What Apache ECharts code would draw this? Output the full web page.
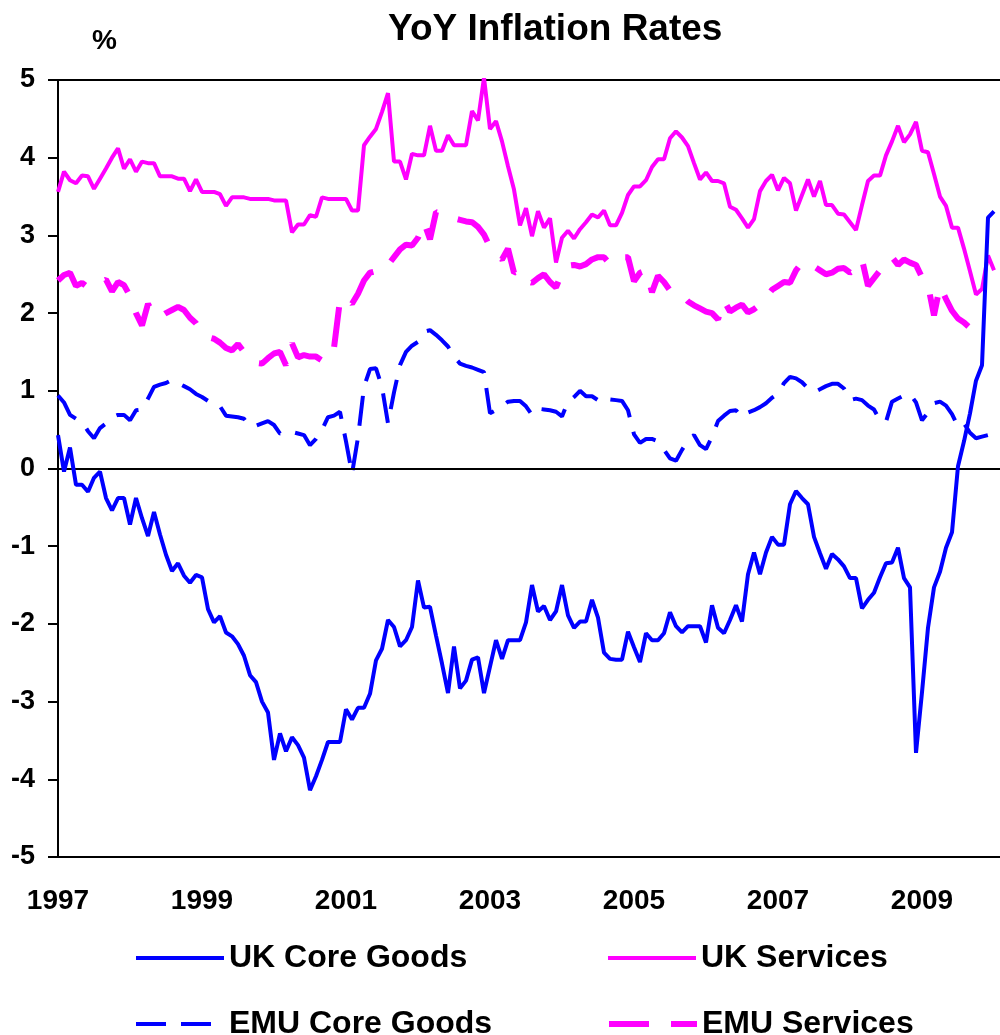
<!DOCTYPE html>
<html>
<head>
<meta charset="utf-8">
<title>YoY Inflation Rates</title>
<script src="https://cdn.jsdelivr.net/npm/echarts@6/dist/echarts.min.js"></script>
<style>
  html, body { margin: 0; padding: 0; background: #fff; }
  #inflation-chart { width: 1000px; height: 1035px; }
</style>
</head>
<body>
<div id="inflation-chart"></div>
<script>
// monthly data, Jan 1997 .. Jan 2010
const years = [1997, 1998, 1999, 2000, 2001, 2002, 2003, 2004, 2005, 2006, 2007, 2008, 2009, 2010];
const tickYears = ['1997', '1999', '2001', '2003', '2005', '2007', '2009'];

const ukCoreGoods = [
  0.43, -0.04, 0.27, -0.21, -0.21, -0.30, -0.12, -0.04, -0.38, -0.54, -0.38, -0.38,
  -0.72, -0.38, -0.64, -0.87, -0.56, -0.85, -1.11, -1.32, -1.22, -1.38, -1.47, -1.37,
  -1.40, -1.81, -1.98, -1.90, -2.11, -2.16, -2.26, -2.41, -2.66, -2.75, -3.00, -3.14,
  -3.75, -3.41, -3.64, -3.46, -3.56, -3.72, -4.14, -3.96, -3.75, -3.52, -3.52, -3.52,
  -3.10, -3.23, -3.08, -3.08, -2.90, -2.47, -2.32, -1.95, -2.04, -2.29, -2.21, -2.04,
  -1.44, -1.79, -1.78, -2.15, -2.51, -2.89, -2.29, -2.83, -2.73, -2.46, -2.43, -2.89,
  -2.55, -2.21, -2.45, -2.21, -2.21, -2.21, -1.98, -1.50, -1.84, -1.77, -1.95, -1.84,
  -1.50, -1.89, -2.05, -1.97, -1.97, -1.69, -1.92, -2.37, -2.45, -2.46, -2.46, -2.10,
  -2.30, -2.49, -2.12, -2.21, -2.21, -2.12, -1.85, -2.03, -2.11, -2.03, -2.03, -2.03,
  -2.24, -1.76, -2.05, -2.12, -1.95, -1.76, -1.97, -1.36, -1.08, -1.36, -1.08, -0.88,
  -0.98, -0.98, -0.46, -0.29, -0.38, -0.46, -0.88, -1.09, -1.29, -1.10, -1.17, -1.26,
  -1.41, -1.41, -1.80, -1.69, -1.60, -1.40, -1.22, -1.21, -1.02, -1.41, -1.53, -3.66,
  -2.88, -2.05, -1.53, -1.33, -1.02, -0.82, 0.03, 0.35, 0.71, 1.13, 1.33, 3.23,
  3.31
];

const ukServices = [
  3.56, 3.82, 3.71, 3.67, 3.77, 3.76, 3.60, 3.73, 3.86, 4.00, 4.12, 3.86,
  3.98, 3.82, 3.95, 3.93, 3.93, 3.76, 3.76, 3.76, 3.73, 3.73, 3.57, 3.72,
  3.56, 3.56, 3.56, 3.53, 3.38, 3.49, 3.49, 3.49, 3.47, 3.47, 3.47, 3.47,
  3.45, 3.45, 3.45, 3.04, 3.14, 3.14, 3.26, 3.24, 3.49, 3.47, 3.47, 3.47,
  3.47, 3.32, 3.32, 4.16, 4.27, 4.37, 4.59, 4.83, 3.95, 3.95, 3.72, 4.05,
  4.03, 4.03, 4.41, 4.09, 4.09, 4.29, 4.16, 4.16, 4.16, 4.60, 4.48, 5.03,
  4.37, 4.47, 4.21, 3.89, 3.59, 3.13, 3.35, 2.99, 3.31, 3.10, 3.22, 2.65,
  2.97, 3.06, 2.96, 3.08, 3.17, 3.27, 3.23, 3.32, 3.13, 3.13, 3.29, 3.52,
  3.63, 3.63, 3.71, 3.88, 3.98, 3.98, 4.25, 4.34, 4.26, 4.15, 3.93, 3.72,
  3.81, 3.70, 3.70, 3.67, 3.37, 3.33, 3.22, 3.10, 3.21, 3.57, 3.70, 3.78,
  3.58, 3.74, 3.67, 3.32, 3.52, 3.72, 3.50, 3.70, 3.39, 3.39, 3.28, 3.27,
  3.17, 3.07, 3.39, 3.70, 3.77, 3.77, 4.03, 4.21, 4.41, 4.20, 4.30, 4.46,
  4.09, 4.07, 3.79, 3.50, 3.38, 3.10, 3.10, 2.83, 2.54, 2.24, 2.31, 2.74,
  2.55
];

const emuCoreGoods = [
  0.94, 0.85, 0.69, 0.64, 0.60, 0.48, 0.39, 0.52, 0.58, 0.66, 0.69, 0.69,
  0.62, 0.75, 0.76, 0.90, 1.05, 1.08, 1.10, 1.14, 1.10, 1.06, 1.02, 0.96,
  0.92, 0.87, 0.86, 0.80, 0.68, 0.67, 0.66, 0.64, 0.54, 0.55, 0.58, 0.61,
  0.56, 0.45, 0.45, 0.47, 0.45, 0.43, 0.30, 0.38, 0.50, 0.66, 0.68, 0.73,
  0.35, -0.07, 0.40, 1.05, 1.28, 1.29, 1.05, 0.58, 0.98, 1.33, 1.50, 1.58,
  1.63, 1.76, 1.78, 1.72, 1.65, 1.57, 1.44, 1.35, 1.32, 1.30, 1.27, 1.24,
  0.71, 0.75, 0.80, 0.86, 0.87, 0.87, 0.80, 0.69, 0.77, 0.76, 0.75, 0.73,
  0.67, 0.86, 0.92, 1.00, 0.93, 0.93, 0.88, 0.93, 0.89, 0.88, 0.87, 0.75,
  0.44, 0.33, 0.38, 0.38, 0.35, 0.24, 0.13, 0.10, 0.24, 0.36, 0.43, 0.30,
  0.25, 0.41, 0.61, 0.68, 0.74, 0.75, 0.66, 0.72, 0.75, 0.79, 0.84, 0.91,
  0.96, 1.10, 1.18, 1.16, 1.11, 1.03, 0.98, 1.02, 1.06, 1.09, 1.09, 1.03,
  0.88, 0.90, 0.88, 0.81, 0.76, 0.62, 0.60, 0.86, 0.90, 0.94, 0.96, 0.85,
  0.62, 0.72, 0.84, 0.86, 0.81, 0.70, 0.54, 0.58, 0.46, 0.39, 0.41, 0.43,
  null
];

const emuServices = [
  2.42, 2.49, 2.52, 2.35, 2.39, 2.33, 2.36, 2.40, 2.43, 2.28, 2.40, 2.36,
  2.22, 2.00, 1.84, 2.12, 1.97, 1.95, 2.00, 2.04, 2.08, 2.04, 1.94, 1.87,
  1.74, 1.69, 1.67, 1.62, 1.55, 1.52, 1.60, 1.50, 1.42, 1.36, 1.35, 1.42,
  1.48, 1.50, 1.33, 1.61, 1.43, 1.46, 1.44, 1.44, 1.39, 1.55, 1.55, 2.17,
  2.20, 2.12, 2.25, 2.42, 2.52, 2.54, 2.54, 2.62, 2.72, 2.82, 2.88, 2.87,
  2.97, 3.17, 2.95, 3.30, 3.28, 3.25, 3.22, 3.20, 3.18, 3.17, 3.11, 3.01,
  2.85, 2.75, 2.69, 2.83, 2.52, 2.55, 2.42, 2.39, 2.45, 2.50, 2.40, 2.33,
  2.52, 2.61, 2.62, 2.60, 2.63, 2.69, 2.72, 2.72, 2.63, 2.67, 2.72, 2.72,
  2.41, 2.52, 2.55, 2.27, 2.48, 2.40, 2.29, 2.28, 2.23, 2.15, 2.10, 2.06,
  2.02, 2.00, 1.92, 2.16, 2.02, 2.07, 2.11, 2.01, 2.05, 2.11, 2.20, 2.30,
  2.35, 2.40, 2.39, 2.55, 2.65, 2.66, 2.60, 2.55, 2.50, 2.52, 2.57, 2.58,
  2.52, 2.57, 2.69, 2.35, 2.45, 2.55, 2.65, 2.72, 2.62, 2.69, 2.65, 2.62,
  2.46, 2.36, 1.97, 2.35, 2.18, 2.03, 1.93, 1.88, 1.81, 1.77, null, null,
  null
];

// one category per month, plus one spare month so the plot runs to the edge
const months = [];
years.forEach((y) => {
  for (let m = 1; m <= 12; m++) {
    if (y === 2010 && m > 2) break;
    months.push(y + '-' + (m < 10 ? '0' + m : m));
  }
});

const FONT = '"Liberation Sans", Arial, sans-serif';
const BLUE = '#0000ff';
const MAGENTA = '#ff00ff';
const AXIS_LINE = { show: true, onZero: false, lineStyle: { color: '#000', width: 2 } };

const chartDom = document.getElementById('inflation-chart');
const myChart = echarts.init(chartDom, null, { renderer: 'canvas' });

// line-only legend icons: hide the symbol that line series put in the middle
const legendBase = {
  orient: 'horizontal',
  padding: 0,
  itemWidth: 88,
  itemHeight: 20,
  selectedMode: false,
  itemStyle: { color: 'rgba(0,0,0,0)', borderColor: 'rgba(0,0,0,0)', borderWidth: 0 },
  textStyle: { fontSize: 32, fontWeight: 'bold', color: '#000', fontFamily: FONT }
};

const option = {
  animation: false,
  backgroundColor: '#fff',
  title: [
    {
      text: 'YoY Inflation Rates',
      left: 388,
      top: 11,
      padding: 0,
      textStyle: { fontSize: 37, fontWeight: 'bold', color: '#000', fontFamily: FONT }
    },
    {
      text: '%',
      left: 92,
      top: 27,
      padding: 0,
      textStyle: { fontSize: 28, fontWeight: 'bold', color: '#000', fontFamily: FONT }
    }
  ],
  legend: [
    { ...legendBase, left: 134, top: 942, data: ['UK Core Goods'], lineStyle: { width: 4 } },
    { ...legendBase, left: 606, top: 942, data: ['UK Services'], lineStyle: { width: 4 } },
    { ...legendBase, left: 134, top: 1008, data: ['EMU Core Goods'], lineStyle: { width: 4 } },
    { ...legendBase, left: 606, top: 1008, data: ['EMU Services'], lineStyle: { width: 6 } }
  ],
  grid: {
    left: 58,
    right: 0,
    top: 80,
    bottom: 178,
    show: false,
    containLabel: false
  },
  xAxis: [
    {
      type: 'category',
      data: months,
      boundaryGap: false,
      position: 'bottom',
      axisLine: AXIS_LINE,
      axisTick: { show: false },
      splitLine: { show: false },
      axisLabel: {
        interval: (index, value) => tickYears.includes(value.slice(0, 4)) && value.slice(5) === '01',
        formatter: (value) => value.slice(0, 4),
        margin: 30,
        fontSize: 28,
        fontWeight: 'bold',
        color: '#000',
        fontFamily: FONT
      }
    },
    {
      // top edge of the plot area, no labels
      type: 'category',
      data: months,
      boundaryGap: false,
      position: 'top',
      axisLine: AXIS_LINE,
      axisTick: { show: false },
      axisLabel: { show: false },
      splitLine: { show: false }
    }
  ],
  yAxis: {
    type: 'value',
    min: -5,
    max: 5,
    interval: 1,
    axisLine: AXIS_LINE,
    axisTick: { show: true, inside: false, length: 10, lineStyle: { color: '#000', width: 2 } },
    splitLine: { show: false },
    axisLabel: {
      margin: 23,
      fontSize: 27,
      fontWeight: 'bold',
      color: '#000',
      fontFamily: FONT
    }
  },
  series: [
    {
      name: 'EMU Services',
      type: 'line',
      data: emuServices,
      symbol: 'none',
      itemStyle: { color: MAGENTA },
      lineStyle: { color: MAGENTA, width: 6, type: [40, 22] },
      z: 2
    },
    {
      name: 'UK Services',
      type: 'line',
      data: ukServices,
      symbol: 'none',
      itemStyle: { color: MAGENTA },
      lineStyle: { color: MAGENTA, width: 4 },
      z: 3
    },
    {
      name: 'EMU Core Goods',
      type: 'line',
      data: emuCoreGoods,
      symbol: 'none',
      itemStyle: { color: BLUE },
      lineStyle: { color: BLUE, width: 4, type: [30, 15] },
      z: 4
    },
    {
      name: 'UK Core Goods',
      type: 'line',
      data: ukCoreGoods,
      symbol: 'none',
      itemStyle: { color: BLUE },
      lineStyle: { color: BLUE, width: 4 },
      z: 5,
      markLine: {
        silent: true,
        symbol: ['none', 'none'],
        label: { show: false },
        lineStyle: { color: '#000', width: 2, type: 'solid' },
        data: [{ yAxis: 0 }]
      }
    }
  ]
};

myChart.setOption(option);

const handleResize = () => {
  myChart.resize();
};
window.addEventListener('resize', handleResize);
</script>
</body>
</html>
